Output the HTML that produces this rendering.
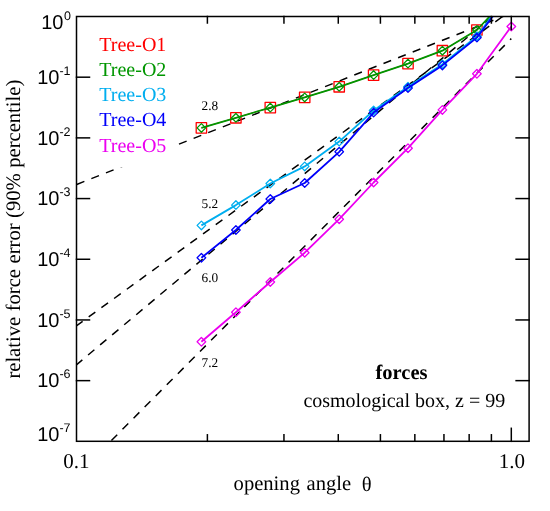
<!DOCTYPE html>
<html><head><meta charset="utf-8"><style>
html,body{margin:0;padding:0;background:#fff;}
#w{position:relative;width:550px;height:511px;overflow:hidden;background:#fff;}
svg{display:block;position:absolute;left:0;top:0;will-change:transform;}
</style></head><body><div id="w">
<svg width="550" height="511" viewBox="0 0 550 511">
<defs><clipPath id="c"><rect x="76.5" y="16.5" width="452.6" height="424.8"/></clipPath></defs>
<rect x="0" y="0" width="550" height="511" fill="#fff"/>
<g clip-path="url(#c)" stroke="#000" stroke-width="1.5" fill="none">
<line x1="34.36" y1="201.13" x2="511.30" y2="13.20" stroke-dasharray="8.2 7.5" stroke-dashoffset="1.54"/>
<line x1="34.36" y1="356.37" x2="511.30" y2="10.20" stroke-dasharray="8.2 7.5" stroke-dashoffset="11.36"/>
<line x1="34.36" y1="400.03" x2="511.30" y2="0.60" stroke-dasharray="8.2 7.5" stroke-dashoffset="8.41"/>
<line x1="34.36" y1="517.91" x2="511.30" y2="38.60" stroke-dasharray="8.2 7.5" stroke-dashoffset="0.65"/>
</g>
<rect x="92" y="25" width="84" height="142.4" fill="#fff"/>
<g clip-path="url(#c)" fill="none" stroke-linejoin="round">
<polyline stroke="#ff0000" stroke-width="1.0" points="201.4,127.9 235.9,117.8 270.3,107.6 304.7,97.4 339.2,86.8 373.6,75.1 408.0,63.6 442.4,50.7 476.9,30.0 511.3,-6.5"/>
<rect stroke="#ff0000" stroke-width="1.3" x="196.2" y="122.7" width="10.4" height="10.4"/>
<rect stroke="#ff0000" stroke-width="1.3" x="230.7" y="112.6" width="10.4" height="10.4"/>
<rect stroke="#ff0000" stroke-width="1.3" x="265.1" y="102.4" width="10.4" height="10.4"/>
<rect stroke="#ff0000" stroke-width="1.3" x="299.5" y="92.2" width="10.4" height="10.4"/>
<rect stroke="#ff0000" stroke-width="1.3" x="334.0" y="81.6" width="10.4" height="10.4"/>
<rect stroke="#ff0000" stroke-width="1.3" x="368.4" y="69.9" width="10.4" height="10.4"/>
<rect stroke="#ff0000" stroke-width="1.3" x="402.8" y="58.4" width="10.4" height="10.4"/>
<rect stroke="#ff0000" stroke-width="1.3" x="437.2" y="45.5" width="10.4" height="10.4"/>
<rect stroke="#ff0000" stroke-width="1.3" x="471.7" y="24.8" width="10.4" height="10.4"/>
<rect stroke="#ff0000" stroke-width="1.3" x="506.1" y="-11.7" width="10.4" height="10.4"/>
<polyline stroke="#009600" stroke-width="1.8" points="201.4,127.9 235.9,117.8 270.3,107.6 304.7,97.4 339.2,86.8 373.6,75.1 408.0,63.6 442.4,50.7 476.9,30.0 511.3,-6.5"/>
<path stroke="#009600" stroke-width="1.3" d="M197.1 127.9L201.4 123.6L205.7 127.9L201.4 132.2Z"/>
<path stroke="#009600" stroke-width="1.3" d="M231.6 117.8L235.9 113.5L240.2 117.8L235.9 122.1Z"/>
<path stroke="#009600" stroke-width="1.3" d="M266.0 107.6L270.3 103.3L274.6 107.6L270.3 111.9Z"/>
<path stroke="#009600" stroke-width="1.3" d="M300.4 97.4L304.7 93.1L309.0 97.4L304.7 101.7Z"/>
<path stroke="#009600" stroke-width="1.3" d="M334.9 86.8L339.2 82.5L343.5 86.8L339.2 91.1Z"/>
<path stroke="#009600" stroke-width="1.3" d="M369.3 75.1L373.6 70.8L377.9 75.1L373.6 79.4Z"/>
<path stroke="#009600" stroke-width="1.3" d="M403.7 63.6L408.0 59.3L412.3 63.6L408.0 67.9Z"/>
<path stroke="#009600" stroke-width="1.3" d="M438.1 50.7L442.4 46.4L446.7 50.7L442.4 55.0Z"/>
<path stroke="#009600" stroke-width="1.3" d="M472.6 30.0L476.9 25.7L481.2 30.0L476.9 34.3Z"/>
<path stroke="#009600" stroke-width="1.3" d="M507.0 -6.5L511.3 -10.8L515.6 -6.5L511.3 -2.2Z"/>
<polyline stroke="#00aeef" stroke-width="1.8" points="201.4,225.4 235.9,205.1 270.3,183.5 304.7,166.4 339.2,141.6 373.6,110.5 408.0,86.7 442.4,64.2 476.9,36.2 511.3,-10.0"/>
<path stroke="#00aeef" stroke-width="1.3" d="M197.1 225.4L201.4 221.1L205.7 225.4L201.4 229.7Z"/>
<path stroke="#00aeef" stroke-width="1.3" d="M231.6 205.1L235.9 200.8L240.2 205.1L235.9 209.4Z"/>
<path stroke="#00aeef" stroke-width="1.3" d="M266.0 183.5L270.3 179.2L274.6 183.5L270.3 187.8Z"/>
<path stroke="#00aeef" stroke-width="1.3" d="M300.4 166.4L304.7 162.1L309.0 166.4L304.7 170.7Z"/>
<path stroke="#00aeef" stroke-width="1.3" d="M334.9 141.6L339.2 137.3L343.5 141.6L339.2 145.9Z"/>
<path stroke="#00aeef" stroke-width="1.3" d="M369.3 110.5L373.6 106.2L377.9 110.5L373.6 114.8Z"/>
<path stroke="#00aeef" stroke-width="1.3" d="M403.7 86.7L408.0 82.4L412.3 86.7L408.0 91.0Z"/>
<path stroke="#00aeef" stroke-width="1.3" d="M438.1 64.2L442.4 59.9L446.7 64.2L442.4 68.5Z"/>
<path stroke="#00aeef" stroke-width="1.3" d="M472.6 36.2L476.9 31.9L481.2 36.2L476.9 40.5Z"/>
<path stroke="#00aeef" stroke-width="1.3" d="M507.0 -10.0L511.3 -14.3L515.6 -10.0L511.3 -5.7Z"/>
<polyline stroke="#0000fa" stroke-width="1.8" points="201.4,257.8 235.9,230.0 270.3,199.0 304.7,183.0 339.2,151.8 373.6,112.6 408.0,88.1 442.4,65.4 476.9,37.6 511.3,-8.5"/>
<path stroke="#0000fa" stroke-width="1.3" d="M197.1 257.8L201.4 253.5L205.7 257.8L201.4 262.1Z"/>
<path stroke="#0000fa" stroke-width="1.3" d="M231.6 230.0L235.9 225.7L240.2 230.0L235.9 234.3Z"/>
<path stroke="#0000fa" stroke-width="1.3" d="M266.0 199.0L270.3 194.7L274.6 199.0L270.3 203.3Z"/>
<path stroke="#0000fa" stroke-width="1.3" d="M300.4 183.0L304.7 178.7L309.0 183.0L304.7 187.3Z"/>
<path stroke="#0000fa" stroke-width="1.3" d="M334.9 151.8L339.2 147.5L343.5 151.8L339.2 156.1Z"/>
<path stroke="#0000fa" stroke-width="1.3" d="M369.3 112.6L373.6 108.3L377.9 112.6L373.6 116.9Z"/>
<path stroke="#0000fa" stroke-width="1.3" d="M403.7 88.1L408.0 83.8L412.3 88.1L408.0 92.4Z"/>
<path stroke="#0000fa" stroke-width="1.3" d="M438.1 65.4L442.4 61.1L446.7 65.4L442.4 69.7Z"/>
<path stroke="#0000fa" stroke-width="1.3" d="M472.6 37.6L476.9 33.3L481.2 37.6L476.9 41.9Z"/>
<path stroke="#0000fa" stroke-width="1.3" d="M507.0 -8.5L511.3 -12.8L515.6 -8.5L511.3 -4.2Z"/>
<polyline stroke="#ec00f0" stroke-width="1.8" points="201.4,341.8 235.9,312.2 270.3,282.0 304.7,252.7 339.2,219.2 373.6,182.5 408.0,148.2 442.4,109.9 476.9,73.8 511.3,26.5"/>
<path stroke="#ec00f0" stroke-width="1.3" d="M197.1 341.8L201.4 337.5L205.7 341.8L201.4 346.1Z"/>
<path stroke="#ec00f0" stroke-width="1.3" d="M231.6 312.2L235.9 307.9L240.2 312.2L235.9 316.5Z"/>
<path stroke="#ec00f0" stroke-width="1.3" d="M266.0 282.0L270.3 277.7L274.6 282.0L270.3 286.3Z"/>
<path stroke="#ec00f0" stroke-width="1.3" d="M300.4 252.7L304.7 248.4L309.0 252.7L304.7 257.0Z"/>
<path stroke="#ec00f0" stroke-width="1.3" d="M334.9 219.2L339.2 214.9L343.5 219.2L339.2 223.5Z"/>
<path stroke="#ec00f0" stroke-width="1.3" d="M369.3 182.5L373.6 178.2L377.9 182.5L373.6 186.8Z"/>
<path stroke="#ec00f0" stroke-width="1.3" d="M403.7 148.2L408.0 143.9L412.3 148.2L408.0 152.5Z"/>
<path stroke="#ec00f0" stroke-width="1.3" d="M438.1 109.9L442.4 105.6L446.7 109.9L442.4 114.2Z"/>
<path stroke="#ec00f0" stroke-width="1.3" d="M472.6 73.8L476.9 69.5L481.2 73.8L476.9 78.1Z"/>
<path stroke="#ec00f0" stroke-width="1.3" d="M507.0 26.5L511.3 22.2L515.6 26.5L511.3 30.8Z"/>
</g>
<g stroke="#000" stroke-width="1.50" fill="none" stroke-linecap="square">
<rect x="76.5" y="16.5" width="452.6" height="424.8"/>
<line x1="76.5" y1="77.19" x2="89.5" y2="77.19"/>
<line x1="529.1" y1="77.19" x2="516.1" y2="77.19"/>
<line x1="76.5" y1="137.88" x2="89.5" y2="137.88"/>
<line x1="529.1" y1="137.88" x2="516.1" y2="137.88"/>
<line x1="76.5" y1="198.57" x2="89.5" y2="198.57"/>
<line x1="529.1" y1="198.57" x2="516.1" y2="198.57"/>
<line x1="76.5" y1="259.26" x2="89.5" y2="259.26"/>
<line x1="529.1" y1="259.26" x2="516.1" y2="259.26"/>
<line x1="76.5" y1="319.95" x2="89.5" y2="319.95"/>
<line x1="529.1" y1="319.95" x2="516.1" y2="319.95"/>
<line x1="76.5" y1="380.64" x2="89.5" y2="380.64"/>
<line x1="529.1" y1="380.64" x2="516.1" y2="380.64"/>
<line x1="207.39" y1="441.3" x2="207.39" y2="434.8"/>
<line x1="207.39" y1="16.5" x2="207.39" y2="23.0"/>
<line x1="283.95" y1="441.3" x2="283.95" y2="434.8"/>
<line x1="283.95" y1="16.5" x2="283.95" y2="23.0"/>
<line x1="338.28" y1="441.3" x2="338.28" y2="434.8"/>
<line x1="338.28" y1="16.5" x2="338.28" y2="23.0"/>
<line x1="380.41" y1="441.3" x2="380.41" y2="434.8"/>
<line x1="380.41" y1="16.5" x2="380.41" y2="23.0"/>
<line x1="414.84" y1="441.3" x2="414.84" y2="434.8"/>
<line x1="414.84" y1="16.5" x2="414.84" y2="23.0"/>
<line x1="443.95" y1="441.3" x2="443.95" y2="434.8"/>
<line x1="443.95" y1="16.5" x2="443.95" y2="23.0"/>
<line x1="469.16" y1="441.3" x2="469.16" y2="434.8"/>
<line x1="469.16" y1="16.5" x2="469.16" y2="23.0"/>
<line x1="491.40" y1="441.3" x2="491.40" y2="434.8"/>
<line x1="491.40" y1="16.5" x2="491.40" y2="23.0"/>
<line x1="511.30" y1="441.3" x2="511.30" y2="428.3"/>
<line x1="511.30" y1="16.5" x2="511.30" y2="29.5"/>
</g>
<g font-family="'Liberation Sans', sans-serif" fill="#000" text-rendering="geometricPrecision">
<text x="41.2" y="28.8" font-size="20">10</text><text x="64.0" y="19.8" font-size="12.5">0</text>
<text x="37.2" y="83.8" font-size="20">10</text><text x="59.4" y="74.8" font-size="12.5">-1</text>
<text x="37.2" y="144.5" font-size="20">10</text><text x="59.4" y="135.5" font-size="12.5">-2</text>
<text x="37.2" y="205.2" font-size="20">10</text><text x="59.4" y="196.2" font-size="12.5">-3</text>
<text x="37.2" y="265.9" font-size="20">10</text><text x="59.4" y="256.9" font-size="12.5">-4</text>
<text x="37.2" y="326.6" font-size="20">10</text><text x="59.4" y="317.6" font-size="12.5">-5</text>
<text x="37.2" y="387.2" font-size="20">10</text><text x="59.4" y="378.2" font-size="12.5">-6</text>
<text x="37.2" y="441.0" font-size="20">10</text><text x="59.4" y="432.0" font-size="12.5">-7</text>
</g>
<g font-family="'Liberation Serif', serif" fill="#000" font-size="20" text-rendering="geometricPrecision">
<text x="63.2" y="467.7" font-size="21">0.1</text>
<text x="498.8" y="467.7" font-size="21">1.0</text>
<text x="233.6" y="489.8" font-size="20.6" style="word-spacing:1.4px">opening angle</text>
<text x="361.8" y="490.6" font-size="20.6">&#952;</text>
<text transform="translate(19.7,378.6) rotate(-90)" font-size="20.6" style="word-spacing:0.4px">relative force error (90% percentile)</text>
<text x="99.3" y="50.5" fill="#ff0000">Tree-O1</text>
<text x="99.3" y="75.8" fill="#009600">Tree-O2</text>
<text x="99.3" y="101.1" fill="#00aeef">Tree-O3</text>
<text x="99.3" y="126.4" fill="#0000fa">Tree-O4</text>
<text x="99.3" y="151.7" fill="#ec00f0">Tree-O5</text>
<text x="375.5" y="378.5" font-size="20.5" font-weight="bold">forces</text>
<text x="303.4" y="407.3">cosmological box, z = 99</text>
<text x="201.5" y="110.0" font-size="13.3">2.8</text>
<text x="201.5" y="207.5" font-size="13.3">5.2</text>
<text x="201.5" y="282.0" font-size="13.3">6.0</text>
<text x="201.5" y="366.5" font-size="13.3">7.2</text>
</g>
</svg>
</div></body></html>
